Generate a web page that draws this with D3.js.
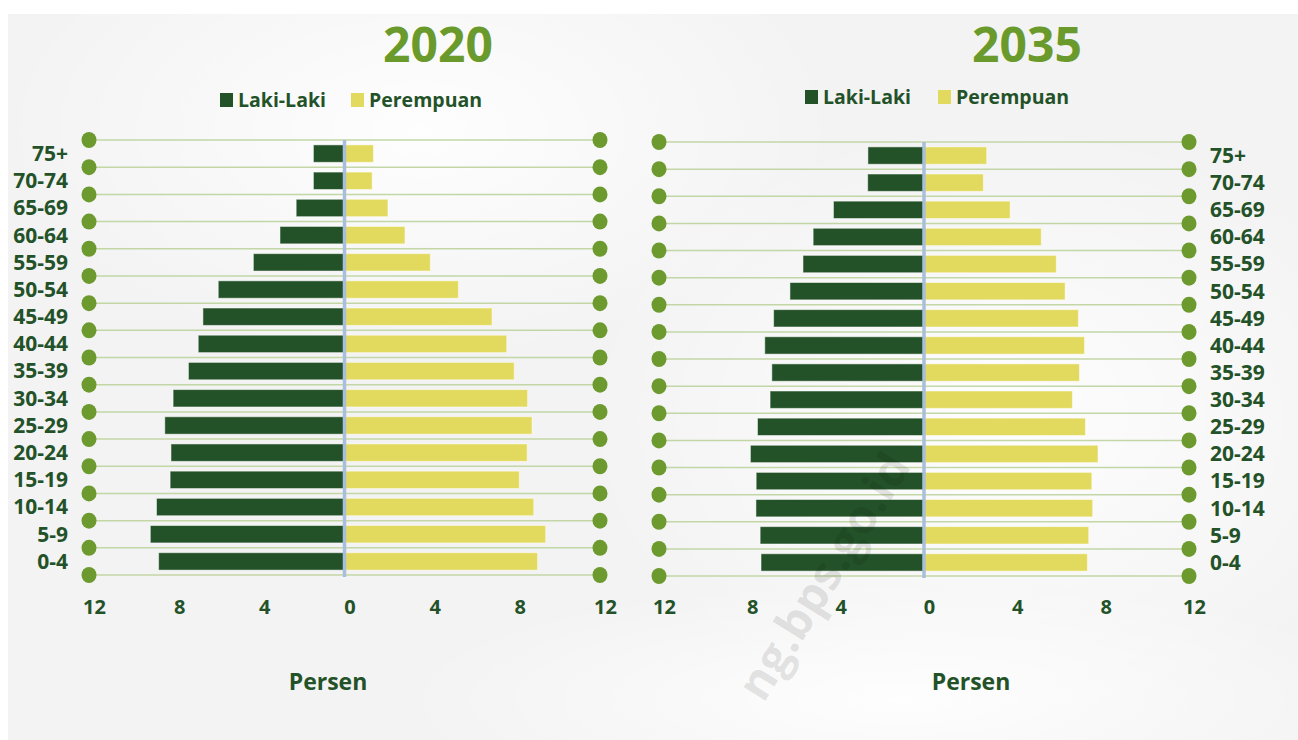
<!DOCTYPE html>
<html>
<head>
<meta charset="utf-8">
<script src="https://cdn.jsdelivr.net/npm/d3@7"></script>
<style>
  body { margin: 0; background: #ffffff; }
  svg text { font-family: "Open Sans", "Noto Sans", sans-serif; font-weight: 700; }
</style>
</head>
<body>
<script>
const width = 1298;
const height = 740;

// age groups, bottom to top
const ageGroups = ["0-4", "5-9", "10-14", "15-19", "20-24", "25-29", "30-34", "35-39",
  "40-44", "45-49", "50-54", "55-59", "60-64", "65-69", "70-74", "75+"];

// percent of population
const male2020   = [8.73, 9.12, 8.83, 8.19, 8.15, 8.44, 8.05, 7.33, 6.87, 6.65, 5.93, 4.28, 3.03, 2.27, 1.46, 1.46];
const female2020 = [9.07, 9.45, 8.89, 8.21, 8.58, 8.81, 8.60, 7.97, 7.62, 6.93, 5.35, 4.03, 2.84, 2.04, 1.30, 1.36];
const male2035   = [7.38, 7.42, 7.61, 7.60, 7.86, 7.54, 6.97, 6.89, 7.21, 6.81, 6.07, 5.48, 5.02, 4.10, 2.55, 2.54];
const female2035 = [7.40, 7.46, 7.64, 7.60, 7.88, 7.31, 6.72, 7.04, 7.27, 6.99, 6.39, 5.99, 5.31, 3.90, 2.69, 2.84];

const xTicks = [-12, -8, -4, 0, 4, 8, 12];
const legendLabels = ["Laki-Laki", "Perempuan"];

const maleColor = "#235228";
const femaleColor = "#e2da5e";
const textColor = "#235228";
const dotColor = "#6c9a2f";

const svg = d3.select("body")
  .append("svg")
  .attr("width", width)
  .attr("height", height);

// soft background
const defs = svg.append("defs");
const grad = defs.append("radialGradient").attr("id", "glow")
  .attr("cx", "0.5").attr("cy", "0.5").attr("r", "0.5");
grad.append("stop").attr("offset", "0%").attr("stop-color", "#ffffff").attr("stop-opacity", 0.9);
grad.append("stop").attr("offset", "100%").attr("stop-color", "#ffffff").attr("stop-opacity", 0);

svg.append("rect")
  .attr("width", width).attr("height", height)
  .attr("fill", "#ffffff");
svg.append("rect")
  .attr("x", 8).attr("y", 14)
  .attr("width", width - 8).attr("height", height - 14)
  .attr("fill", "#f3f3f3");
svg.append("ellipse")
  .attr("cx", 420).attr("cy", 130).attr("rx", 420).attr("ry", 230)
  .attr("fill", "url(#glow)");
svg.append("ellipse")
  .attr("cx", 1000).attr("cy", 420).attr("rx", 420).attr("ry", 300)
  .attr("fill", "url(#glow)");
svg.append("ellipse")
  .attr("cx", 900).attr("cy", 700).attr("rx", 500).attr("ry", 120)
  .attr("fill", "url(#glow)");

function drawPyramid(cfg) {
  const g = svg.append("g");

  const x = d3.scaleLinear()
    .domain([-12, 12])
    .range([cfg.left, cfg.right]);

  const y = d3.scaleBand()
    .domain(ageGroups.slice().reverse())
    .range([cfg.top, cfg.bottom])
    .paddingInner(0.36)
    .paddingOuter(0.18);

  const bounds = d3.range(ageGroups.length + 1).map(i => cfg.top + i * (cfg.bottom - cfg.top) / ageGroups.length);

  // gridlines with end dots
  g.selectAll(".grid")
    .data(bounds)
    .enter().append("line")
    .attr("x1", x(-12)).attr("x2", x(12))
    .attr("y1", d => d).attr("y2", d => d)
    .attr("stroke", "#c3d6a6")
    .attr("stroke-width", 1.5);

  g.selectAll(".dotL")
    .data(bounds)
    .enter().append("ellipse")
    .attr("cx", x(-12)).attr("cy", d => d)
    .attr("rx", 7.5).attr("ry", 8)
    .attr("fill", dotColor);

  g.selectAll(".dotR")
    .data(bounds)
    .enter().append("ellipse")
    .attr("cx", x(12)).attr("cy", d => d)
    .attr("rx", 7.5).attr("ry", 8)
    .attr("fill", dotColor);

  // bars
  const rows = ageGroups.map((a, i) => ({ age: a, m: cfg.male[i], f: cfg.female[i] }));

  g.selectAll(".male")
    .data(rows)
    .enter().append("rect")
    .attr("x", d => x(-d.m))
    .attr("y", d => y(d.age))
    .attr("width", d => x(0) - x(-d.m))
    .attr("height", y.bandwidth())
    .attr("fill", maleColor)
    .attr("stroke", "#ffffff")
    .attr("stroke-opacity", 0.5)
    .attr("stroke-width", 1);

  g.selectAll(".female")
    .data(rows)
    .enter().append("rect")
    .attr("x", x(0))
    .attr("y", d => y(d.age))
    .attr("width", d => x(d.f) - x(0))
    .attr("height", y.bandwidth())
    .attr("fill", femaleColor)
    .attr("stroke", "#ffffff")
    .attr("stroke-opacity", 0.5)
    .attr("stroke-width", 1);

  // centre axis
  g.append("line")
    .attr("x1", x(0)).attr("x2", x(0))
    .attr("y1", cfg.top).attr("y2", cfg.bottom + 2)
    .attr("stroke", "#a9bedb")
    .attr("stroke-width", 3.5);

  // age labels
  g.selectAll(".age")
    .data(ageGroups)
    .enter().append("text")
    .attr("x", cfg.labelX)
    .attr("y", d => y(d) + y.bandwidth() / 2)
    .attr("dy", "0.35em")
    .attr("text-anchor", cfg.labelAnchor)
    .attr("font-size", 21)
    .attr("fill", textColor)
    .text(d => d);

  // x axis
  const axis = g.append("g")
    .attr("transform", `translate(5,${cfg.axisY})`)
    .call(d3.axisBottom(x).tickValues(xTicks).tickSize(0).tickFormat(d => Math.abs(d)));
  axis.select(".domain").remove();
  axis.selectAll("text")
    .attr("font-size", 20)
    .attr("font-family", "\"Open Sans\", sans-serif")
    .attr("font-weight", 700)
    .attr("fill", textColor);

  // title
  g.append("text")
    .attr("x", cfg.titleX).attr("y", 62)
    .attr("text-anchor", "middle")
    .attr("font-size", 48)
    .attr("fill", "#6a9a2b")
    .text(cfg.title);

  // legend
  const leg = g.append("g").attr("transform", `translate(${cfg.legendX},${cfg.legendY})`);
  const legColors = [maleColor, femaleColor];
  legendLabels.forEach((t, i) => {
    leg.append("rect")
      .attr("x", cfg.legendGap * i).attr("y", -7)
      .attr("width", 13).attr("height", 14)
      .attr("fill", legColors[i]);
    leg.append("text")
      .attr("x", cfg.legendGap * i + 18).attr("y", 0)
      .attr("dy", "0.35em")
      .attr("font-size", 19.5)
      .attr("fill", textColor)
      .text(t);
  });

  // axis title
  g.append("text")
    .attr("x", cfg.unitX).attr("y", 682)
    .attr("dy", "0.35em")
    .attr("text-anchor", "middle")
    .attr("font-size", 23)
    .attr("fill", textColor)
    .text("Persen");
}

drawPyramid({
  title: "2020", titleX: 438,
  male: male2020, female: female2020,
  left: 89, right: 600, top: 140, bottom: 575,
  labelX: 68, labelAnchor: "end",
  axisY: 597, legendX: 220, legendY: 100, legendGap: 131, unitX: 328
});

drawPyramid({
  title: "2035", titleX: 1027,
  male: male2035, female: female2035,
  left: 659, right: 1189, top: 142, bottom: 576,
  labelX: 1210, labelAnchor: "start",
  axisY: 597, legendX: 805, legendY: 97, legendGap: 133, unitX: 971
});

// watermark, semi-transparent over the charts
svg.append("text")
  .attr("transform", "translate(912,466) rotate(-58)")
  .attr("text-anchor", "end")
  .attr("font-size", 47)
  .attr("fill", "#000000")
  .attr("fill-opacity", 0.11)
  .text("ng.bps.go.id");
</script>
</body>
</html>
